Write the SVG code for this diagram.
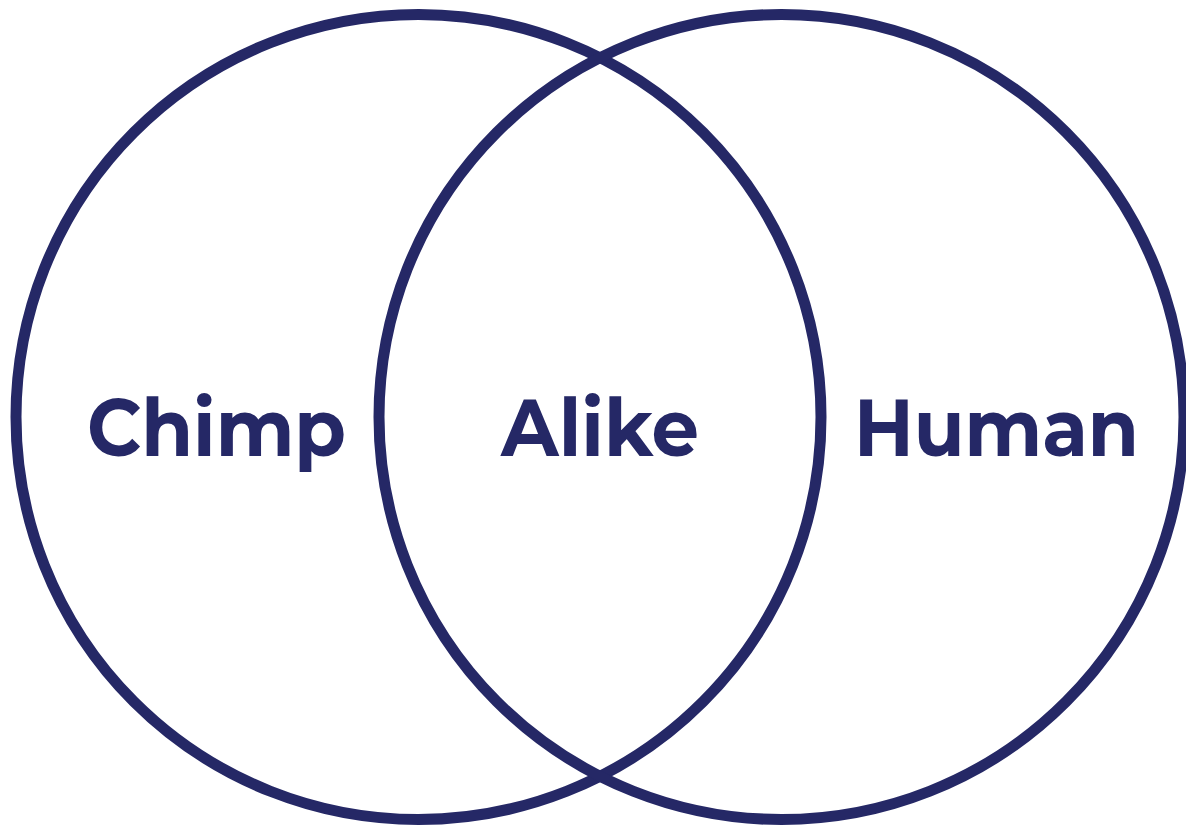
<svg xmlns="http://www.w3.org/2000/svg" width="1186" height="825" viewBox="0 0 1186 825">
<style>
.c{fill:none;stroke:#252866;stroke-width:11}
.t{fill:#252866;font-family:"Montserrat","Liberation Sans",Arial,sans-serif;font-weight:700;font-size:80px}
</style>
<rect width="1186" height="825" fill="#ffffff"/>
<g id="chimp">
<circle class="c" cx="418.5" cy="417" r="402.5"/>
<text class="t" x="87" y="456" textLength="259" lengthAdjust="spacingAndGlyphs">Chimp</text>
</g>
<g id="human">
<circle class="c" cx="781.5" cy="417" r="402.5"/>
<text class="t" x="854" y="456" textLength="285" lengthAdjust="spacingAndGlyphs">Human</text>
</g>
<g id="alike">
<text class="t" x="501" y="456" textLength="198" lengthAdjust="spacingAndGlyphs">Alike</text>
</g>
<g id="connectors"></g>
</svg>
